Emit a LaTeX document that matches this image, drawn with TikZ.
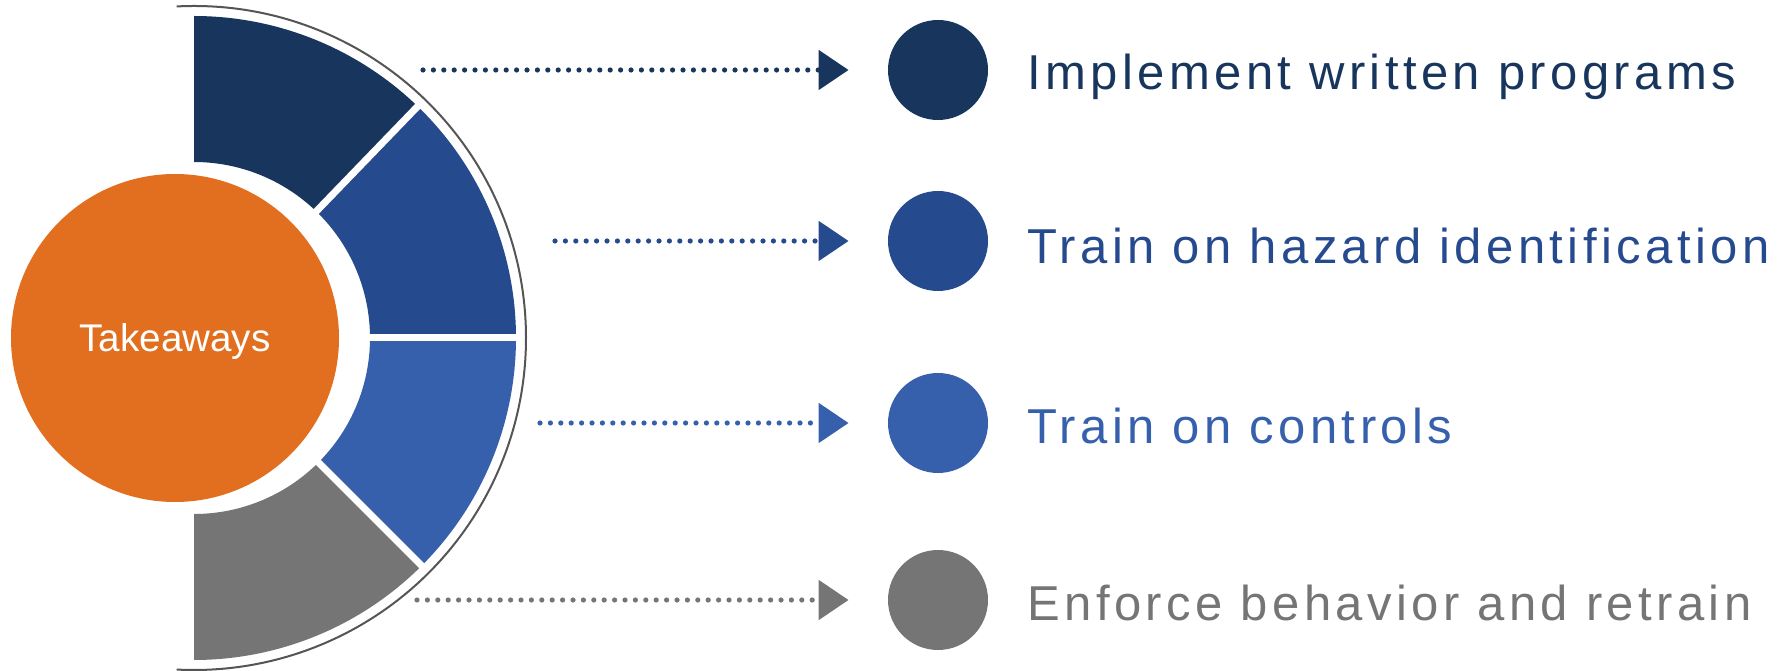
\documentclass[tikz,border=0pt]{standalone}
\usepackage{fontspec}
\setmainfont{Liberation Sans}
\newfontfamily\itemfont[LetterSpace=9]{Liberation Sans}
\usetikzlibrary{arrows.meta}
\definecolor{navyA}{RGB}{24,54,93}
\definecolor{blueB}{RGB}{37,74,142}
\definecolor{blueC}{RGB}{55,96,172}
\definecolor{grayD}{RGB}{116,117,116}
\definecolor{hubOrange}{RGB}{226,111,31}
\definecolor{rimGray}{RGB}{85,85,85}
\tikzset{
	bullet/.style={circle, inner sep=0pt, minimum size=50pt},
	leadline/.style={line width=2.6pt, line cap=round, dash pattern=on 0pt off 5.2pt, shorten >=19.5pt, -{Triangle[length=15pt,width=19.5pt]}},
	itemtext/.style={anchor=base west, inner sep=0pt, font=\itemfont\fontsize{24.5}{29}\selectfont},
}

\begin{document}
\begin{tikzpicture}[x=0.5pt, y=0.5pt]
				\useasboundingbox (0,0) rectangle (1789,670);
				\coordinate (ctr) at (194,332);
				\node[circle, fill=hubOrange, inner sep=0pt, minimum size=164pt, text=white, text depth=0pt, font=\fontsize{19.3}{23}\selectfont] (hub) at (175,332) {Takeaways};
				% ring segments
				\fill[navyA] ([shift={(90:322)}]ctr) arc[start angle=90, end angle=46, radius=322] -- ([shift={(46:176)}]ctr) arc[start angle=46, end angle=90, radius=176] -- cycle;
				\fill[blueB] ([shift={(46:322)}]ctr) arc[start angle=46, end angle=0, radius=322] -- ([shift={(0:176)}]ctr) arc[start angle=0, end angle=46, radius=176] -- cycle;
				\fill[blueC] ([shift={(0:322)}]ctr) arc[start angle=0, end angle=-45, radius=322] -- ([shift={(-45:176)}]ctr) arc[start angle=-45, end angle=0, radius=176] -- cycle;
				\fill[grayD] ([shift={(-45:322)}]ctr) arc[start angle=-45, end angle=-90, radius=322] -- ([shift={(-90:176)}]ctr) arc[start angle=-90, end angle=-45, radius=176] -- cycle;
				\draw[white, line width=3.5pt] ([shift={(46:170)}]ctr) -- ([shift={(46:326)}]ctr);
				\draw[white, line width=3.5pt] ([shift={(0:170)}]ctr) -- ([shift={(0:326)}]ctr);
				\draw[white, line width=3.5pt] ([shift={(-45:170)}]ctr) -- ([shift={(-45:326)}]ctr);
				\draw[rimGray, line width=1pt] ([shift={(93:332)}]ctr) arc[start angle=93, end angle=-93, radius=332];
				% bullets and texts
				\node[bullet, fill=navyA] (dA) at (938,600) {};
				\node[bullet, fill=blueB] (dB) at (938,429) {};
				\node[bullet, fill=blueC] (dC) at (938,247) {};
				\node[bullet, fill=grayD] (dD) at (938,70) {};
				\node[itemtext, text=navyA] (tA) at (1027,580) {Implement written programs};
				\node[itemtext, text=blueB] (tB) at (1027,406) {Train on hazard identification};
				\node[itemtext, text=blueC] (tC) at (1027,226) {Train on controls};
				\node[itemtext, text=grayD] (tD) at (1027,50) {Enforce behavior and retrain};
				\coordinate (sA) at (423,600);
				\coordinate (sB) at (555,429);
				\coordinate (sC) at (540,247);
				\coordinate (sD) at (417,70);
				\draw[leadline, navyA] (sA) -- (dA.west);
				\draw[leadline, blueB] (sB) -- (dB.west);
				\draw[leadline, blueC] (sC) -- (dC.west);
				\draw[leadline, grayD] (sD) -- (dD.west);
			\end{tikzpicture}
\end{document}
